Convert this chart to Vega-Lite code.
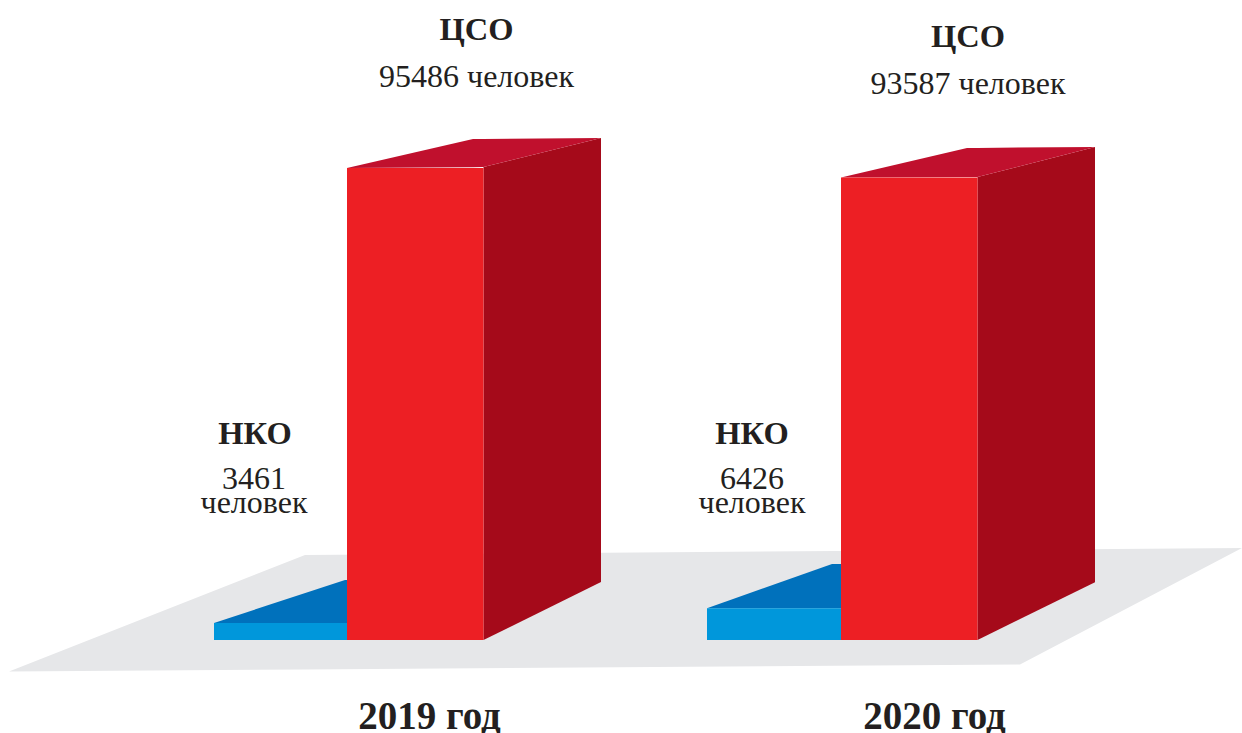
{"$schema":"https://vega.github.io/schema/vega-lite/v6.json","width":1242,"height":733,"padding":0,"autosize":{"type":"none"},"background":"white","view":{"stroke":null},
"datasets":{
"faces":[
{"shape":"floor","face":"floor","pos":9,"top":-6372,"bottom":-6372},
{"shape":"floor","face":"floor","pos":305,"top":17196,"bottom":-5958},
{"shape":"floor","face":"floor","pos":1020,"top":18276,"bottom":-4956},
{"shape":"floor","face":"floor","pos":1242,"top":18612,"bottom":18612},
{"shape":"nko-top-2019","face":"nko-top","pos":214,"top":3461,"bottom":3461},
{"shape":"nko-top-2019","face":"nko-top","pos":345,"top":12138,"bottom":3461},
{"shape":"nko-top-2019","face":"nko-top","pos":349,"top":12138,"bottom":3461},
{"shape":"nko-top-2020","face":"nko-top","pos":707,"top":6426,"bottom":6426},
{"shape":"nko-top-2020","face":"nko-top","pos":832,"top":15375,"bottom":6426},
{"shape":"nko-top-2020","face":"nko-top","pos":841,"top":15375,"bottom":6426},
{"shape":"cso-side-2019","face":"cso-side","pos":483.5,"top":95689,"bottom":0},
{"shape":"cso-side-2019","face":"cso-side","pos":601,"top":101555,"bottom":11733},
{"shape":"cso-side-2020","face":"cso-side","pos":977.5,"top":93665,"bottom":0},
{"shape":"cso-side-2020","face":"cso-side","pos":1095,"top":99734,"bottom":11673},
{"shape":"cso-top-2019","face":"cso-top","pos":347,"top":95486,"bottom":95486},
{"shape":"cso-top-2019","face":"cso-top","pos":473,"top":101350,"bottom":95655},
{"shape":"cso-top-2019","face":"cso-top","pos":483.5,"top":101369,"bottom":95689},
{"shape":"cso-top-2019","face":"cso-top","pos":601,"top":101555,"bottom":101555},
{"shape":"cso-top-2020","face":"cso-top","pos":841,"top":93587,"bottom":93587},
{"shape":"cso-top-2020","face":"cso-top","pos":967,"top":99532,"bottom":93647},
{"shape":"cso-top-2020","face":"cso-top","pos":977.5,"top":99552,"bottom":93665},
{"shape":"cso-top-2020","face":"cso-top","pos":1095,"top":99734,"bottom":99734}
],
"bars":[
{"org":"НКО","year":2019,"people":3461,"start":214,"end":349},
{"org":"НКО","year":2020,"people":6426,"start":707,"end":841},
{"org":"ЦСО","year":2019,"people":95486,"start":347,"end":483.5},
{"org":"ЦСО","year":2020,"people":93587,"start":841,"end":977.5}
],
"heads":[
{"label":"ЦСО","pos":476.5,"level":121380},
{"label":"ЦСО","pos":968,"level":119964},
{"label":"НКО","pos":255,"level":39651},
{"label":"НКО","pos":752,"level":39651}
],
"values":[
{"label":"95486 человек","pos":476.5,"level":111872},
{"label":"93587 человек","pos":968,"level":110456},
{"label":"3461","pos":254,"level":30547},
{"label":"человек","pos":254,"level":25692},
{"label":"6426","pos":752,"level":30547},
{"label":"человек","pos":752,"level":25692}
],
"years":[
{"label":"2019 год","pos":429.5,"level":-18005},
{"label":"2020 год","pos":934.5,"level":-18005}
]},
"layer":[
{"data":{"name":"faces"},"mark":{"type":"area","strokeWidth":0.5,"line":false},
"encoding":{
"x":{"field":"pos","type":"quantitative","scale":{"domain":[0,1242],"nice":false,"zero":false},"axis":null},
"y":{"field":"top","type":"quantitative","scale":{"domain":[-18814,129472],"nice":false,"zero":false},"axis":null},
"y2":{"field":"bottom"},
"detail":{"field":"shape"},
"color":{"field":"face","type":"nominal","legend":null,"scale":{"domain":["floor","nko-top","cso-side","cso-top"],"range":["#E6E7E9","#0071BC","#A50A1A","#C0102D"]}}}},
{"data":{"name":"bars"},"mark":{"type":"rect"},
"encoding":{
"x":{"field":"start","type":"quantitative"},
"x2":{"field":"end"},
"y":{"field":"people","type":"quantitative"},
"y2":{"datum":0},
"fill":{"field":"org","type":"nominal","legend":null,"scale":{"domain":["НКО","ЦСО"],"range":["#0097DB","#ED1F24"]}}}},
{"data":{"name":"heads"},"mark":{"type":"text","font":"Liberation Serif","fontWeight":"bold","fontSize":32.5,"color":"#231F20","align":"center","baseline":"alphabetic"},
"encoding":{"x":{"field":"pos","type":"quantitative"},"y":{"field":"level","type":"quantitative"},"text":{"field":"label"}}},
{"data":{"name":"values"},"mark":{"type":"text","font":"Liberation Serif","fontSize":32,"color":"#231F20","align":"center","baseline":"alphabetic"},
"encoding":{"x":{"field":"pos","type":"quantitative"},"y":{"field":"level","type":"quantitative"},"text":{"field":"label"}}},
{"data":{"name":"years"},"mark":{"type":"text","font":"Liberation Serif","fontWeight":"bold","fontSize":39,"color":"#231F20","align":"center","baseline":"alphabetic"},
"encoding":{"x":{"field":"pos","type":"quantitative"},"y":{"field":"level","type":"quantitative"},"text":{"field":"label"}}}
],
"resolve":{"scale":{"color":"independent"}}}
